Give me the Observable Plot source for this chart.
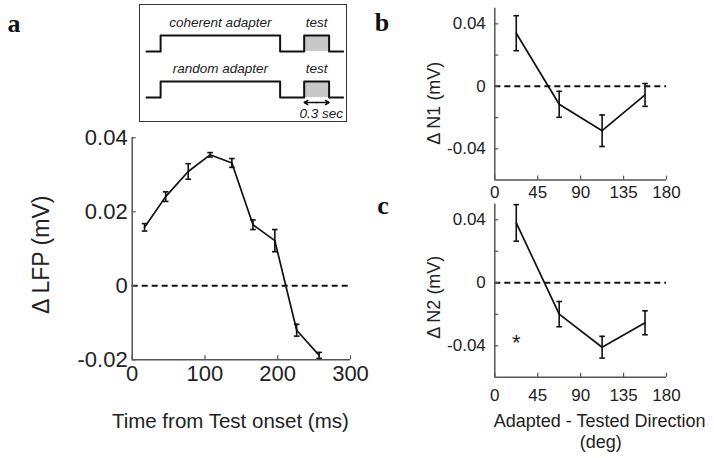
<!DOCTYPE html>
<html><head><meta charset="utf-8">
<script src="https://cdn.jsdelivr.net/npm/d3@7"></script>
<script src="https://cdn.jsdelivr.net/npm/@observablehq/plot@0.6"></script>
<style>
body{margin:0;background:#fff;}
#fig{position:relative;width:714px;height:458px;overflow:hidden;background:#fff;}
#box{position:absolute;left:139px;top:4px;width:208px;height:118px;border:1.5px solid #333;box-sizing:border-box;}
</style></head><body><div id="fig"><div id="box"></div></div>
<script>
// ---------- data ----------
const timeMs  = [17, 46, 77, 107, 137, 166, 196, 226, 257];
const lfpMean = [0.0158, 0.0241, 0.0309, 0.0354, 0.0332, 0.0165, 0.0122, -0.0120, -0.0188];
const lfpErr  = [0.0010, 0.0013, 0.0021, 0.0006, 0.0012, 0.0013, 0.0030, 0.0016, 0.0008];

const dirDeg  = [22.5, 67.5, 112.5, 157.5];
const n1Mean  = [0.0340, -0.0115, -0.0284, -0.0055];
const n1Err   = [0.0112, 0.0083, 0.0101, 0.0073];
const n2Mean  = [0.0380, -0.0199, -0.0409, -0.0254];
const n2Err   = [0.0116, 0.0080, 0.0069, 0.0076];
const sigDir  = [22.5];
const sigVal  = [-0.0385];

const timeTicks   = [0, 100, 200, 300];
const lfpTicks    = [-0.02, 0, 0.02, 0.04];
const dirTicks    = [0, 45, 90, 135, 180];
const nTicks      = [-0.04, -0.02, 0, 0.02, 0.04];
const nLabelTicks = [-0.04, 0, 0.04];

// schematic (inset)
const adapterRows = ["coherent adapter", "random adapter"];
const stepTime  = [0, 0.17, 0.17, 1.61, 1.61, 1.9, 1.9, 2.2, 2.2, 2.37];
const stepLevel = [0, 0, 1, 1, 0, 0, 1, 1, 0, 0];
const testLabel = "test";
const durLabel  = "0.3 sec";

// ---------- helpers ----------
const FONT = "'Liberation Sans', Arial, Helvetica, sans-serif";
const SERIF = "'Liberation Serif', 'Times New Roman', serif";
const AXIS = "#555";
const INK = "#111";
const fig = document.getElementById("fig");
const cap = {draw(ctx) { ctx.moveTo(-2.8, 0); ctx.lineTo(2.8, 0); }};
const fmtY = d => d === 0 ? "0" : d.toFixed(2);

function place(svg, left, top) {
  svg.style.position = "absolute";
  svg.style.left = left + "px";
  svg.style.top = top + "px";
  fig.appendChild(svg);
}

function errorPanel(c) {
  const rows = c.xs.map((x, i) => ({x, y: c.ys[i], lo: c.ys[i] - c.es[i], hi: c.ys[i] + c.es[i]}));
  const fw = c.width - c.ml - c.mr, fh = c.height - c.mt - c.mb;
  const marks = [
    Plot.ruleY([0], {stroke: INK, strokeWidth: 2, strokeDasharray: "6,4"}),
    Plot.ruleX([c.xDomain[0]], {stroke: AXIS, strokeWidth: 1.5}),
    Plot.ruleY([c.yDomain[0]], {stroke: AXIS, strokeWidth: 1.5}),
    Plot.tickX(c.xTicks, {x: d => d, insetTop: fh - 4, stroke: AXIS, strokeWidth: 1.2}),
    Plot.tickY(c.yTicks, {y: d => d, insetRight: fw - 4, stroke: AXIS, strokeWidth: 1.2}),
    Plot.axisX(c.xTicks, {tickSize: 0, tickPadding: c.xPad, fontSize: c.fs, label: null, tickFormat: d => String(d), fill: "#222"}),
    Plot.axisY(c.yLabelTicks, {tickSize: 0, tickPadding: c.yPad, fontSize: c.fs, label: null, tickFormat: fmtY, fill: "#222"}),
    Plot.ruleX(rows, {x: "x", y1: "lo", y2: "hi", stroke: INK, strokeWidth: 1.6}),
    Plot.dot(rows, {x: "x", y: "lo", symbol: cap, stroke: INK, fill: "none", strokeWidth: 1.6}),
    Plot.dot(rows, {x: "x", y: "hi", symbol: cap, stroke: INK, fill: "none", strokeWidth: 1.6}),
    Plot.line(rows, {x: "x", y: "y", stroke: INK, strokeWidth: 1.7}),
    Plot.text([c.yLabel], {text: d => d, frameAnchor: "left", rotate: -90, dx: c.yLabelDx, dy: c.yLabelDy,
      fontSize: c.yLabelFs, lineAnchor: "middle", textAnchor: "middle", fill: "#222"}),
    Plot.text([c.letter], {text: d => d, frameAnchor: "top-left", dx: c.letterDx, dy: c.letterDy,
      fontSize: 26, fontWeight: "bold", fontFamily: SERIF, lineAnchor: "middle", textAnchor: "middle", fill: INK}),
    ...c.xLabels.map(l => Plot.text([l.text], {text: d => d, frameAnchor: "bottom", dx: l.dx, dy: l.dy,
      fontSize: c.xLabelFs, lineAnchor: "middle", textAnchor: "middle", fill: "#222"})),
    ...(c.extra || [])
  ];
  const svg = Plot.plot({
    width: c.width, height: c.height,
    marginLeft: c.ml, marginRight: c.mr, marginTop: c.mt, marginBottom: c.mb,
    style: {background: "transparent", overflow: "visible", fontFamily: FONT},
    x: {domain: c.xDomain}, y: {domain: c.yDomain},
    marks
  });
  place(svg, c.left, c.top);
}

// ---------- panel a ----------
errorPanel({
  left: 0, top: 125, width: 370, height: 333, ml: 131.7, mr: 20, mt: 12.3, mb: 98.7,
  xs: timeMs, ys: lfpMean, es: lfpErr,
  xDomain: [0, 300], yDomain: [-0.02, 0.04],
  xTicks: timeTicks, yTicks: lfpTicks, yLabelTicks: lfpTicks,
  fs: 22, xPad: 6, yPad: 4.5,
  yLabel: "Δ LFP (mV)", yLabelFs: 23, yLabelDx: -90.7, yLabelDy: 6,
  letter: "a", letterDx: -118.2, letterDy: -114.6,
  xLabels: [{text: "Time from Test onset (ms)", dx: -11, dy: 62}], xLabelFs: 20.5
});

// ---------- panel b ----------
errorPanel({
  left: 380, top: 0, width: 334, height: 200, ml: 114.3, mr: 48, mt: 7.7, mb: 20.4,
  xs: dirDeg, ys: n1Mean, es: n1Err,
  xDomain: [0, 180], yDomain: [-0.06, 0.05],
  xTicks: dirTicks, yTicks: nTicks, yLabelTicks: nLabelTicks,
  fs: 17, xPad: 6, yPad: 9,
  yLabel: "Δ N1 (mV)", yLabelFs: 18, yLabelDx: -60.3, yLabelDy: 9,
  letter: "b", letterDx: -112.8, letterDy: 14,
  xLabels: [], xLabelFs: 18
});

// ---------- panel c ----------
errorPanel({
  left: 380, top: 195, width: 334, height: 263, ml: 114.3, mr: 48, mt: 8.5, mb: 81.2,
  xs: dirDeg, ys: n2Mean, es: n2Err,
  xDomain: [0, 180], yDomain: [-0.06, 0.05],
  xTicks: dirTicks, yTicks: nTicks, yLabelTicks: nLabelTicks,
  fs: 17, xPad: 12, yPad: 9,
  yLabel: "Δ N2 (mV)", yLabelFs: 18, yLabelDx: -60.3, yLabelDy: 6.5,
  letter: "c", letterDx: -111.8, letterDy: 1.2,
  xLabels: [{text: "Adapted - Tested Direction", dx: 19, dy: 44}, {text: "(deg)", dx: 20, dy: 65}], xLabelFs: 18,
  extra: [Plot.text(sigDir.map((d, i) => ({d, v: sigVal[i]})), {x: "d", y: "v", text: () => "*", fontSize: 22, fill: "#222", lineAnchor: "middle"})]
});

// ---------- inset schematic ----------
const stepData = adapterRows.flatMap(row => stepTime.map((t, i) => ({row, t, level: stepLevel[i]})));
const adapterMid = (stepTime[2] + stepTime[3]) / 2;
const testOn = stepTime[6], testOff = stepTime[7];
const testMid = (testOn + testOff) / 2;
const insetFs = 13.5;
const inset = Plot.plot({
  width: 220, height: 128, marginLeft: 11, marginRight: 12.3, marginTop: 35, marginBottom: 31.3,
  style: {background: "transparent", overflow: "visible", fontFamily: FONT},
  x: {domain: [stepTime[0], stepTime[stepTime.length - 1]], axis: null},
  y: {domain: [0, 1], axis: null},
  fy: {domain: adapterRows, paddingInner: 0.659, paddingOuter: 0, axis: null},
  marks: [
    Plot.rect(adapterRows, {fy: d => d, x1: () => testOn, x2: () => testOff, y1: () => 0, y2: () => 1, fill: "#c8c8c8"}),
    Plot.line(stepData, {fy: "row", x: "t", y: "level", stroke: INK, strokeWidth: 2}),
    Plot.text(adapterRows, {fy: d => d, x: () => adapterMid, y: () => 1, text: d => d, dy: -12.5,
      fontSize: insetFs, fontStyle: "italic", lineAnchor: "middle", fill: "#222"}),
    Plot.text(adapterRows, {fy: d => d, x: () => testMid, y: () => 1, text: () => testLabel, dy: -12.5,
      fontSize: insetFs, fontStyle: "italic", lineAnchor: "middle", fill: "#222"}),
    Plot.arrow([adapterRows[1]], {fy: d => d, x1: () => testMid, x2: () => testOn, y1: () => 0, y2: () => 0, dy: 5,
      headLength: 5, stroke: INK, strokeWidth: 1.5}),
    Plot.arrow([adapterRows[1]], {fy: d => d, x1: () => testMid, x2: () => testOff, y1: () => 0, y2: () => 0, dy: 5,
      headLength: 5, stroke: INK, strokeWidth: 1.5}),
    Plot.text([adapterRows[1]], {fy: d => d, x: () => testMid, y: () => 0, text: () => durLabel, dx: 4.5, dy: 15.7,
      fontSize: insetFs, fontStyle: "italic", lineAnchor: "middle", fill: "#222"})
  ]
});
place(inset, 135, 0);
</script></body></html>
